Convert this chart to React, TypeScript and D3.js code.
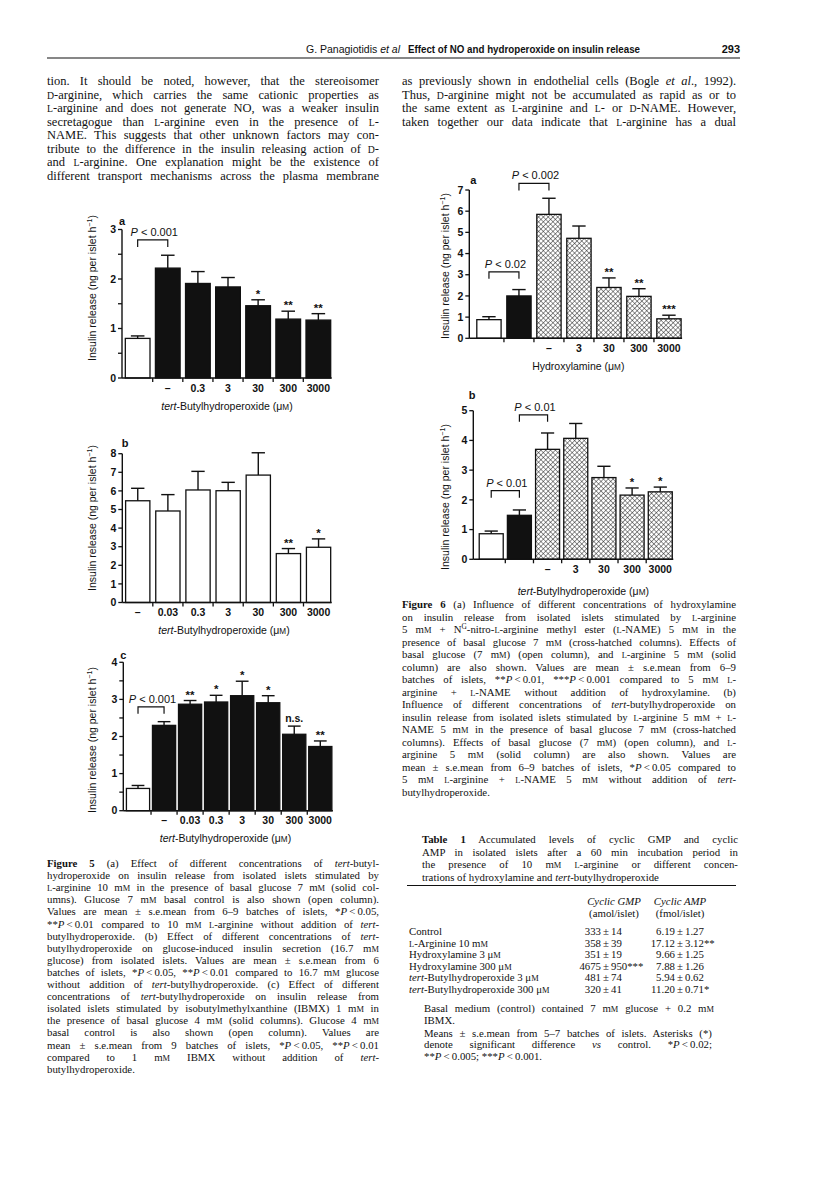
import { useEffect, useRef } from "react";
import * as d3 from "d3";

const SERIF = "'Liberation Serif', 'Times New Roman', Times, serif";
const SANS = "'Liberation Sans', Arial, Helvetica, sans-serif";
const INK = "#111";

// ---------- chart data ----------
const fig5aCategories = ["", "–", "0.3", "3", "30", "300", "3000"];
const fig5aMeans = [0.8, 2.22, 1.91, 1.84, 1.46, 1.19, 1.17];
const fig5aErrors = [0.05, 0.26, 0.24, 0.19, 0.12, 0.16, 0.13];
const fig5aKinds = ["open", "solid", "solid", "solid", "solid", "solid", "solid"];
const fig5aMarks = ["", "", "", "", "*", "**", "**"];
const fig5aTicks = [0, 1, 2, 3];

const fig5bCategories = ["–", "0.03", "0.3", "3", "30", "300", "3000"];
const fig5bMeans = [5.47, 4.92, 6.05, 6.01, 6.85, 2.63, 2.97];
const fig5bErrors = [0.67, 0.88, 1.0, 0.45, 1.2, 0.27, 0.45];
const fig5bKinds = ["open", "open", "open", "open", "open", "open", "open"];
const fig5bMarks = ["", "", "", "", "", "**", "*"];
const fig5bTicks = [0, 1, 2, 3, 4, 5, 6, 7, 8];

const fig5cCategories = ["", "–", "0.03", "0.3", "3", "30", "300", "3000"];
const fig5cMeans = [0.6, 2.3, 2.87, 2.93, 3.1, 2.91, 2.06, 1.73];
const fig5cErrors = [0.08, 0.1, 0.1, 0.18, 0.39, 0.19, 0.22, 0.15];
const fig5cKinds = ["open", "solid", "solid", "solid", "solid", "solid", "solid", "solid"];
const fig5cMarks = ["", "", "**", "*", "*", "*", "n.s.", "**"];
const fig5cTicks = [0, 1, 2, 3, 4];

const fig6aCategories = ["", "", "–", "3", "30", "300", "3000"];
const fig6aMeans = [0.88, 2.0, 5.85, 4.72, 2.4, 1.98, 0.92];
const fig6aErrors = [0.14, 0.3, 0.76, 0.58, 0.45, 0.36, 0.17];
const fig6aKinds = ["open", "solid", "hatch", "hatch", "hatch", "hatch", "hatch"];
const fig6aMarks = ["", "", "", "", "**", "**", "***"];
const fig6aTicks = [0, 1, 2, 3, 4, 5, 6, 7];

const fig6bCategories = ["", "", "–", "3", "30", "300", "3000"];
const fig6bMeans = [0.86, 1.48, 3.7, 4.07, 2.75, 2.16, 2.27];
const fig6bErrors = [0.09, 0.18, 0.55, 0.5, 0.38, 0.24, 0.16];
const fig6bKinds = ["open", "solid", "hatch", "hatch", "hatch", "hatch", "hatch"];
const fig6bMarks = ["", "", "", "", "", "*", "*"];
const fig6bTicks = [0, 1, 2, 3, 4, 5];

// ---------- table data ----------
const tableRowLabels = [
  "Control",
  "[s:L]-Arginine  10 m[s:M]",
  "Hydroxylamine  3 μ[s:M]",
  "Hydroxylamine  300 μ[s:M]",
  "[i:tert]-Butylhydroperoxide  3 μ[s:M]",
  "[i:tert]-Butylhydroperoxide  300 μ[s:M]",
];
const tableGmpMeans = [333, 358, 351, 4675, 481, 320];
const tableGmpErrors = [14, 39, 19, 950, 74, 41];
const tableGmpMarks = ["", "", "", "***", "", ""];
const tableAmpMeans = [6.19, 17.12, 9.66, 7.88, 5.94, 11.2];
const tableAmpErrors = [1.27, 3.12, 1.25, 1.26, 0.62, 0.71];
const tableAmpMarks = ["", "**", "", "", "", "*"];

// ---------- page text ----------
const headerAuthor = "G. Panagiotidis [i:et al]";
const headerTitle = "Effect of NO and hydroperoxide on insulin release";
const headerPage = "293";

const leftBodyLines = [
  "tion. It should be noted, however, that the stereoisomer",
  "[s:D]-arginine, which carries the same cationic properties as",
  "[s:L]-arginine and does not generate NO, was a weaker insulin",
  "secretagogue than [s:L]-arginine even in the presence of [s:L]-",
  "NAME. This suggests that other unknown factors may con-",
  "tribute to the difference in the insulin releasing action of [s:D]-",
  "and [s:L]-arginine. One explanation might be the existence of",
  "different transport mechanisms across the plasma membrane",
];
const rightBodyLines = [
  "as previously shown in endothelial cells (Bogle [i:et al]., 1992).",
  "Thus, [s:D]-arginine might not be accumulated as rapid as or to",
  "the same extent as [s:L]-arginine and [s:L]- or [s:D]-NAME. However,",
  "taken together our data indicate that [s:L]-arginine has a dual",
];

const fig5CaptionLines = [
  "[b:Figure 5] (a) Effect of different concentrations of [i:tert]-butyl-",
  "hydroperoxide on insulin release from isolated islets stimulated by",
  "[s:L]-arginine 10 m[s:M] in the presence of basal glucose 7 m[s:M] (solid col-",
  "umns). Glucose 7 m[s:M] basal control is also shown (open column).",
  "Values are mean ± s.e.mean from 6–9 batches of islets, *[i:P]\u2009<\u20090.05,",
  "**[i:P]\u2009<\u20090.01 compared to 10 m[s:M] [s:L]-arginine without addition of [i:tert]-",
  "butylhydroperoxide. (b) Effect of different concentrations of [i:tert]-",
  "butylhydroperoxide on glucose-induced insulin secretion (16.7 m[s:M]",
  "glucose) from isolated islets. Values are mean ± s.e.mean from 6",
  "batches of islets, *[i:P]\u2009<\u20090.05, **[i:P]\u2009<\u20090.01 compared to 16.7 m[s:M] glucose",
  "without addition of [i:tert]-butylhydroperoxide. (c) Effect of different",
  "concentrations of [i:tert]-butylhydroperoxide on insulin release from",
  "isolated islets stimulated by isobutylmethylxanthine (IBMX) 1 m[s:M] in",
  "the presence of basal glucose 4 m[s:M] (solid columns). Glucose 4 m[s:M]",
  "basal control is also shown (open column). Values are",
  "mean ± s.e.mean from 9 batches of islets, *[i:P]\u2009<\u20090.05, **[i:P]\u2009<\u20090.01",
  "compared to 1 m[s:M] IBMX without addition of [i:tert]-",
  "butylhydroperoxide.",
];

const fig6CaptionLines = [
  "[b:Figure 6] (a) Influence of different concentrations of hydroxylamine",
  "on insulin release from isolated islets stimulated by [s:L]-arginine",
  "5 m[s:M] + N[sup:G]-nitro-[s:L]-arginine methyl ester ([s:L]-NAME) 5 m[s:M] in the",
  "presence of basal glucose 7 m[s:M] (cross-hatched columns). Effects of",
  "basal glucose (7 m[s:M]) (open column), and [s:L]-arginine 5 m[s:M] (solid",
  "column) are also shown. Values are mean ± s.e.mean from 6–9",
  "batches of islets, **[i:P]\u2009<\u20090.01, ***[i:P]\u2009<\u20090.001 compared to 5 m[s:M] [s:L]-",
  "arginine + [s:L]-NAME without addition of hydroxylamine. (b)",
  "Influence of different concentrations of [i:tert]-butylhydroperoxide on",
  "insulin release from isolated islets stimulated by [s:L]-arginine 5 m[s:M] + [s:L]-",
  "NAME 5 m[s:M] in the presence of basal glucose 7 m[s:M] (cross-hatched",
  "columns). Effects of basal glucose (7 m[s:M]) (open column), and [s:L]-",
  "arginine 5 m[s:M] (solid column) are also shown. Values are",
  "mean ± s.e.mean from 6–9 batches of islets, *[i:P]\u2009<\u20090.05 compared to",
  "5 m[s:M] [s:L]-arginine + [s:L]-NAME 5 m[s:M] without addition of [i:tert]-",
  "butylhydroperoxide.",
];

const tableTitleLines = [
  "[b:Table 1] Accumulated levels of cyclic GMP and cyclic",
  "AMP in isolated islets after a 60 min incubation period in",
  "the presence of 10 m[s:M] [s:L]-arginine or different concen-",
  "trations of hydroxylamine and [i:tert]-butylhydroperoxide",
];
const tableNoteLinesA = ["Basal medium (control) contained 7 m[s:M] glucose + 0.2 m[s:M]", "IBMX."];
const tableNoteLinesB = [
  "Means ± s.e.mean from 5–7 batches of islets. Asterisks (*)",
  "denote significant difference [i:vs] control. *[i:P]\u2009<\u20090.02;",
  "**[i:P]\u2009<\u20090.005; ***[i:P]\u2009<\u20090.001.",
];

// ---------- helpers ----------
const MARK = /\[(i|b|s|sup):([^\]]*)\]/g;
type TextSel = d3.Selection<SVGTextElement, unknown, null, undefined>;

function rich(text: TextSel, src: string) {
  const re = new RegExp(MARK.source, "g");
  let last = 0;
  let m: RegExpExecArray | null;
  while ((m = re.exec(src)) !== null) {
    if (m.index > last) text.append("tspan").text(src.slice(last, m.index));
    const t = text.append("tspan").text(m[2]);
    if (m[1] === "i") t.attr("font-style", "italic");
    else if (m[1] === "b") t.attr("font-weight", "bold");
    else if (m[1] === "s") t.attr("font-size", "0.78em");
    else t.attr("font-size", "0.68em").attr("baseline-shift", "super");
    last = m.index + m[0].length;
  }
  if (last < src.length) text.append("tspan").text(src.slice(last));
  return text;
}

function justify(t: TextSel, src: string, width: number) {
  const node = t.node();
  if (!node) return;
  const len = node.getComputedTextLength();
  const plain = src.replace(MARK, "$2");
  const gaps = (plain.match(/ /g) || []).length;
  if (!gaps) return;
  const ws = (width - len) / gaps;
  if (ws > -1.5) t.attr("word-spacing", ws.toFixed(2));
  else t.attr("textLength", width).attr("lengthAdjust", "spacingAndGlyphs");
}

function paragraph(
  g: d3.Selection<SVGGElement, unknown, null, undefined>,
  lines: string[],
  x: number,
  y: number,
  lh: number,
  width: number,
  size: number,
  justifyLast: boolean
) {
  lines.forEach((ln, i) => {
    const t = g
      .append("text")
      .attr("x", x)
      .attr("y", y + i * lh)
      .attr("font-family", SERIF)
      .attr("font-size", size)
      .attr("fill", INK) as TextSel;
    rich(t, ln);
    if (i < lines.length - 1 || justifyLast) justify(t, ln, width);
  });
}

interface Bracket {
  from: number;
  to: number;
  level: number;
  label: string;
}

interface ChartSpec {
  categories: string[];
  means: number[];
  errors: number[];
  kinds: string[];
  marks: string[];
  ticks: number[];
  minorStep: number;
  brackets: Bracket[];
  letter: string;
  xTitle: string;
  x0: number;
  x1: number;
  padIn: number;
  padOut: number;
  y0: number;
  yTop: number;
  xTitleX: number;
  xTitleDy: number;
  yTitleX: number;
  yTitleY: number;
  letterX: number;
  letterY: number;
}

const Y_TITLE = "Insulin release (ng per islet h[sup:−1])";

function drawChart(svg: d3.Selection<SVGSVGElement, unknown, null, undefined>, s: ChartSpec) {
  const g = svg.append("g").attr("font-family", SANS).attr("fill", INK);
  const n = s.categories.length;
  const x = d3
    .scaleBand<number>()
    .domain(d3.range(n))
    .range([s.x0, s.x1])
    .paddingInner(s.padIn)
    .paddingOuter(s.padOut);
  const yMax = s.ticks[s.ticks.length - 1];
  const y = d3.scaleLinear().domain([0, yMax]).range([s.y0, s.yTop]);
  const bw = x.bandwidth();
  const cx = (i: number) => (x(i) as number) + bw / 2;

  // bars
  g.selectAll("rect.bar")
    .data(d3.range(n))
    .join("rect")
    .attr("x", (i) => x(i) as number)
    .attr("y", (i) => y(s.means[i]))
    .attr("width", bw)
    .attr("height", (i) => s.y0 - y(s.means[i]))
    .attr("fill", (i) => (s.kinds[i] === "solid" ? INK : s.kinds[i] === "hatch" ? "url(#hatch)" : "#fff"))
    .attr("stroke", INK)
    .attr("stroke-width", 1.3);

  // error bars + significance marks
  const capW = bw * 0.55;
  d3.range(n).forEach((i) => {
    const top = y(s.means[i] + s.errors[i]);
    g.append("line")
      .attr("x1", cx(i))
      .attr("x2", cx(i))
      .attr("y1", y(s.means[i]))
      .attr("y2", top)
      .attr("stroke", INK)
      .attr("stroke-width", 1.4);
    g.append("line")
      .attr("x1", cx(i) - capW / 2)
      .attr("x2", cx(i) + capW / 2)
      .attr("y1", top)
      .attr("y2", top)
      .attr("stroke", INK)
      .attr("stroke-width", 1.4);
    const mk = s.marks[i];
    if (mk) {
      const star = mk.startsWith("*");
      g.append("text")
        .attr("x", cx(i))
        .attr("y", top - (star ? 2 : 4))
        .attr("text-anchor", "middle")
        .attr("font-size", star ? 11.5 : 10.5)
        .attr("font-weight", "bold")
        .text(mk);
    }
  });

  // y axis
  g.append("line")
    .attr("x1", s.x0)
    .attr("x2", s.x0)
    .attr("y1", s.y0)
    .attr("y2", s.yTop)
    .attr("stroke", INK)
    .attr("stroke-width", 1.4);
  const minors = s.minorStep ? d3.range(0, yMax + 1e-9, s.minorStep).filter((v) => !s.ticks.includes(v)) : [];
  [...s.ticks, ...minors].forEach((v) => {
    g.append("line")
      .attr("x1", s.x0 - 4)
      .attr("x2", s.x0)
      .attr("y1", y(v))
      .attr("y2", y(v))
      .attr("stroke", INK)
      .attr("stroke-width", 1.3);
  });
  s.ticks.forEach((v) => {
    g.append("text")
      .attr("x", s.x0 - 6)
      .attr("y", y(v) + 3.7)
      .attr("text-anchor", "end")
      .attr("font-size", 10.5)
      .attr("font-weight", "bold")
      .text(String(v));
  });

  // x axis, ticks sit between the columns
  const xEnd = (x(n - 1) as number) + bw + 1;
  g.append("line")
    .attr("x1", s.x0)
    .attr("x2", xEnd)
    .attr("y1", s.y0)
    .attr("y2", s.y0)
    .attr("stroke", INK)
    .attr("stroke-width", 1.4);
  d3.range(1, n).forEach((i) => {
    const bx = (x(i) as number) - (x.step() - bw) / 2;
    g.append("line")
      .attr("x1", bx)
      .attr("x2", bx)
      .attr("y1", s.y0)
      .attr("y2", s.y0 + 4)
      .attr("stroke", INK)
      .attr("stroke-width", 1.3);
  });
  s.categories.forEach((c, i) => {
    if (!c) return;
    g.append("text")
      .attr("x", cx(i))
      .attr("y", s.y0 + 13.5)
      .attr("text-anchor", "middle")
      .attr("font-size", 10.5)
      .attr("font-weight", "bold")
      .text(c);
  });

  // titles
  const xt = g
    .append("text")
    .attr("x", s.xTitleX)
    .attr("y", s.y0 + s.xTitleDy)
    .attr("text-anchor", "middle")
    .attr("font-size", 10.5) as TextSel;
  rich(xt, s.xTitle);
  const yt = g
    .append("text")
    .attr("transform", `translate(${s.yTitleX},${s.yTitleY}) rotate(-90)`)
    .attr("text-anchor", "middle")
    .attr("font-size", 10.5) as TextSel;
  rich(yt, Y_TITLE);
  g.append("text")
    .attr("x", s.letterX)
    .attr("y", s.letterY)
    .attr("text-anchor", "middle")
    .attr("font-size", 11)
    .attr("font-weight", "bold")
    .text(s.letter);

  // significance brackets
  s.brackets.forEach((b) => {
    const yb = y(b.level);
    const xa = cx(b.from);
    const xb = cx(b.to);
    g.append("path")
      .attr("d", `M${xa},${yb + 7}V${yb}H${xb}V${yb + 7}`)
      .attr("fill", "none")
      .attr("stroke", INK)
      .attr("stroke-width", 1.2);
    const lt = g
      .append("text")
      .attr("x", (xa + xb) / 2 + 1.5)
      .attr("y", yb - 4)
      .attr("text-anchor", "middle")
      .attr("font-size", 11) as TextSel;
    rich(lt, b.label);
  });
}

const BUTYL = "[i:tert]-Butylhydroperoxide (μ[s:M])";

const charts: ChartSpec[] = [
  {
    categories: fig5aCategories, means: fig5aMeans, errors: fig5aErrors, kinds: fig5aKinds, marks: fig5aMarks,
    ticks: fig5aTicks, minorStep: 0.5, brackets: [{ from: 0, to: 1, level: 2.79, label: "[i:P] < 0.001" }],
    letter: "a", xTitle: BUTYL,
    x0: 122, x1: 334, padIn: 0.18, padOut: 0.11, y0: 378, yTop: 229.5,
    xTitleX: 227, xTitleDy: 32, yTitleX: 96, yTitleY: 288, letterX: 122, letterY: 225,
  },
  {
    categories: fig5bCategories, means: fig5bMeans, errors: fig5bErrors, kinds: fig5bKinds, marks: fig5bMarks,
    ticks: fig5bTicks, minorStep: 0, brackets: [],
    letter: "b", xTitle: BUTYL,
    x0: 122.3, x1: 334, padIn: 0.195, padOut: 0.11, y0: 602.5, yTop: 453.7,
    xTitleX: 224, xTitleDy: 31.5, yTitleX: 96, yTitleY: 518, letterX: 125, letterY: 447,
  },
  {
    categories: fig5cCategories, means: fig5cMeans, errors: fig5cErrors, kinds: fig5cKinds, marks: fig5cMarks,
    ticks: fig5cTicks, minorStep: 0.5, brackets: [{ from: 0, to: 1, level: 2.8, label: "[i:P] < 0.001" }],
    letter: "c", xTitle: BUTYL,
    x0: 123.3, x1: 335, padIn: 0.11, padOut: 0.12, y0: 810.7, yTop: 662.3,
    xTitleX: 225.5, xTitleDy: 31.5, yTitleX: 96, yTitleY: 740, letterX: 123.3, letterY: 659,
  },
  {
    categories: fig6aCategories, means: fig6aMeans, errors: fig6aErrors, kinds: fig6aKinds, marks: fig6aMarks,
    ticks: fig6aTicks, minorStep: 0,
    brackets: [
      { from: 1, to: 2, level: 7.31, label: "[i:P] < 0.002" },
      { from: 0, to: 1, level: 3.14, label: "[i:P] < 0.02" },
    ],
    letter: "a", xTitle: "Hydroxylamine (μ[s:M])",
    x0: 469.3, x1: 688.6, padIn: 0.19, padOut: 0.25, y0: 338.3, yTop: 190,
    xTitleX: 578.3, xTitleDy: 32, yTitleX: 448.5, yTitleY: 266, letterX: 473.3, letterY: 184,
  },
  {
    categories: fig6bCategories, means: fig6bMeans, errors: fig6bErrors, kinds: fig6bKinds, marks: fig6bMarks,
    ticks: fig6bTicks, minorStep: 0,
    brackets: [
      { from: 1, to: 2, level: 4.86, label: "[i:P] < 0.01" },
      { from: 0, to: 1, level: 2.31, label: "[i:P] < 0.01" },
    ],
    letter: "b", xTitle: BUTYL,
    x0: 473.3, x1: 678.2, padIn: 0.148, padOut: 0.21, y0: 559.3, yTop: 410.7,
    xTitleX: 583.3, xTitleDy: 36, yTitleX: 448.5, yTitleY: 497, letterX: 472, letterY: 399,
  },
];

// ---------- page layout ----------
const LEFT_X = 47;
const LEFT_W = 332;
const RIGHT_X = 402;
const RIGHT_W = 334;

export default function App() {
  const ref = useRef<SVGSVGElement>(null);

  useEffect(() => {
    if (!ref.current) return;
    const svg = d3.select(ref.current);
    svg.selectAll("*").remove();

    // cross-hatch fill
    const pat = svg
      .append("defs")
      .append("pattern")
      .attr("id", "hatch")
      .attr("patternUnits", "userSpaceOnUse")
      .attr("width", 3.4)
      .attr("height", 3.4)
      .attr("patternTransform", "rotate(45)");
    pat.append("rect").attr("width", 3.4).attr("height", 3.4).attr("fill", "#fff");
    pat.append("path").attr("d", "M0,0H3.4M0,0V3.4").attr("stroke", INK).attr("stroke-width", 0.9);

    svg.append("rect").attr("width", 816).attr("height", 1187).attr("fill", "#fff");

    // running head
    const head = svg.append("g").attr("font-family", SANS).attr("fill", INK);
    const ha = head.append("text").attr("x", 400).attr("y", 53).attr("text-anchor", "end").attr("font-size", 10.5) as TextSel;
    rich(ha, headerAuthor);
    head.append("text").attr("x", 408).attr("y", 53).attr("font-size", 10.5).attr("font-weight", "bold")
      .attr("textLength", 232).attr("lengthAdjust", "spacingAndGlyphs").text(headerTitle);
    head.append("text").attr("x", 740).attr("y", 53).attr("text-anchor", "end").attr("font-size", 11)
      .attr("font-weight", "bold").text(headerPage);
    svg.append("line").attr("x1", LEFT_X).attr("x2", 740).attr("y1", 58).attr("y2", 58)
      .attr("stroke", INK).attr("stroke-width", 1.2);

    const body = svg.append("g");
    paragraph(body, leftBodyLines, LEFT_X, 85, 13.5, LEFT_W, 12.5, true);
    paragraph(body, rightBodyLines, RIGHT_X, 85, 13.5, RIGHT_W, 12.5, true);

    charts.forEach((c) => drawChart(svg, c));

    paragraph(body, fig5CaptionLines, LEFT_X, 867, 12.1, LEFT_W, 10.8, false);
    paragraph(body, fig6CaptionLines, RIGHT_X, 608, 12.5, RIGHT_W, 10.8, false);

    // table
    paragraph(body, tableTitleLines, 422, 843, 12.5, 316, 10.8, false);
    svg.append("line").attr("x1", 407).attr("x2", 736).attr("y1", 885.5).attr("y2", 885.5)
      .attr("stroke", INK).attr("stroke-width", 1.1);
    const tb = svg.append("g").attr("font-family", SERIF).attr("font-size", 10.8).attr("fill", INK);
    const GMP_X = 606;
    const AMP_X = 680;
    [["Cyclic GMP", GMP_X + 8], ["Cyclic AMP", AMP_X]].forEach(([label, cx]) => {
      tb.append("text").attr("x", cx).attr("y", 905).attr("text-anchor", "middle").attr("font-style", "italic").text(label as string);
    });
    [["(amol/islet)", GMP_X + 8], ["(fmol/islet)", AMP_X]].forEach(([label, cx]) => {
      tb.append("text").attr("x", cx).attr("y", 917).attr("text-anchor", "middle").text(label as string);
    });
    tableRowLabels.forEach((lbl, i) => {
      const ry = 935 + i * 11.5;
      rich(tb.append("text").attr("x", 409).attr("y", ry) as TextSel, lbl);
      const cells: [number, string, string][] = [
        [GMP_X, String(tableGmpMeans[i]), String(tableGmpErrors[i]) + tableGmpMarks[i]],
        [AMP_X, tableAmpMeans[i].toFixed(2), tableAmpErrors[i].toFixed(2) + tableAmpMarks[i]],
      ];
      cells.forEach(([px, left, right]) => {
        tb.append("text").attr("x", px - 5).attr("y", ry).attr("text-anchor", "end").text(left);
        tb.append("text").attr("x", px).attr("y", ry).attr("text-anchor", "middle").text("±");
        tb.append("text").attr("x", px + 5).attr("y", ry).text(right);
      });
    });
    paragraph(body, tableNoteLinesA, 424, 1012, 11.8, 290, 10.8, false);
    paragraph(body, tableNoteLinesB, 424, 1036.5, 11.8, 288, 10.8, false);
  }, []);

  return (
    <svg
      ref={ref}
      width={816}
      height={1187}
      style={{ position: "absolute", left: 0, top: 0, background: "#fff" }}
    />
  );
}
